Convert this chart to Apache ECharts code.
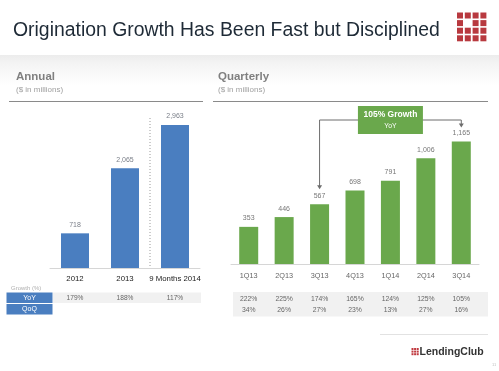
<!DOCTYPE html>
<html><head><meta charset="utf-8">
<script src="https://cdn.jsdelivr.net/npm/echarts@6/dist/echarts.min.js"></script>
<style>html,body{margin:0;padding:0;background:#fff}#c{width:499px;height:371px}</style>
</head><body><div id="c"></div>
<script>
const titleText = 'Origination Growth Has Been Fast but Disciplined';
const annualCats = ['2012', '2013', '9 Months 2014'];
const annualVals = [718, 2065, 2963];
const annualYoY = ['179%', '188%', '117%'];
const quarterCats = ['1Q13', '2Q13', '3Q13', '4Q13', '1Q14', '2Q14', '3Q14'];
const quarterVals = [353, 446, 567, 698, 791, 1006, 1165];
const quarterYoY = ['222%', '225%', '174%', '165%', '124%', '125%', '105%'];
const quarterQoQ = ['34%', '26%', '27%', '23%', '13%', '27%', '16%'];
const growthNote = ['105% Growth', 'YoY'];

const FONT = '"Liberation Sans", Arial, sans-serif';
const BLUE = '#4a7ec0';
const GREEN = '#6aa84c';
const fmt = v => Number(v).toLocaleString('en-US');

const chart = echarts.init(document.getElementById('c'), null, {renderer: 'canvas'});

const baseOption = {
  backgroundColor: '#ffffff',
  animation: false,
  textStyle: {fontFamily: FONT},
  grid: [
    {left: 50, width: 150, top: 99, bottom: 103},
    {left: 231, width: 248, top: 116.7, bottom: 107}
  ],
  xAxis: [
    {type: 'category', gridIndex: 0, data: annualCats,
     axisLine: {lineStyle: {color: '#d6d6d6'}}, axisTick: {show: false},
     axisLabel: {color: '#1a1a1a', fontSize: 7.8, margin: 7, interval: 0, fontFamily: FONT}},
    {type: 'category', gridIndex: 1, data: quarterCats,
     axisLine: {lineStyle: {color: '#d6d6d6'}}, axisTick: {show: false},
     axisLabel: {color: '#666', fontSize: 7.3, margin: 8, interval: 0, fontFamily: FONT}}
  ],
  yAxis: [
    {type: 'value', gridIndex: 0, min: 0, max: 3500, show: false},
    {type: 'value', gridIndex: 1, min: 0, max: 1400, show: false}
  ],
  series: [
    {type: 'bar', xAxisIndex: 0, yAxisIndex: 0, data: annualVals, barWidth: 28,
     itemStyle: {color: BLUE},
     label: {show: true, position: 'top', distance: 5, fontSize: 7, color: '#7a7f88',
             fontFamily: FONT, formatter: p => fmt(p.value)}},
    {type: 'bar', xAxisIndex: 1, yAxisIndex: 1, data: quarterVals, barWidth: 19,
     itemStyle: {color: GREEN},
     label: {show: true, position: 'top', distance: 5, fontSize: 7, color: '#777',
             fontFamily: FONT, formatter: p => fmt(p.value)}}
  ]
};
chart.setOption(baseOption);

const g = [];
function txt(text, x, y, size, color, opts) {
  opts = opts || {};
  g.push({type: 'text', silent: true, z: 10, style: {
    text: text, x: x, y: y, fontSize: size, fill: color, fontFamily: FONT,
    fontWeight: opts.weight || 'normal', align: opts.align || 'left', verticalAlign: 'middle'}});
}
function rect(x, y, w, h, fill, z) {
  g.push({type: 'rect', silent: true, z: z || 1, shape: {x: x, y: y, width: w, height: h}, style: {fill: fill}});
}
function line(x1, y1, x2, y2, color, w, dash) {
  g.push({type: 'line', silent: true, z: 5, shape: {x1: x1, y1: y1, x2: x2, y2: y2},
    style: {stroke: color, lineWidth: w || 1, lineDash: dash || null}});
}
function arrow(x, y, color) {
  g.push({type: 'polygon', silent: true, z: 6, shape: {points: [[x - 2.5, y - 4], [x + 2.5, y - 4], [x, y]]}, style: {fill: color}});
}

// top band
g.push({type: 'rect', silent: true, z: 0, shape: {x: 0, y: 55, width: 499, height: 30},
  style: {fill: new echarts.graphic.LinearGradient(0, 0, 0, 1, [
    {offset: 0, color: '#ececec'}, {offset: 0.25, color: '#f3f3f3'}, {offset: 1, color: '#ffffff'}])}});

// title
txt(titleText, 13, 31, 19.4, '#1e2a36');
// logo grid
for (let r = 0; r < 4; r++) for (let c = 0; c < 4; c++) {
  if (r === 1 && c === 1) continue;
  rect(457 + c * 7.8, 12.5 + r * 7.6, 6, 6, '#b8393f', 5);
}

// panel headers
txt('Annual', 16, 77, 11.5, '#808080', {weight: 'bold'});
txt('($ in millions)', 16, 90, 8, '#a0a0a0');
line(9, 101.5, 203, 101.5, '#8a8a8a', 1);
txt('Quarterly', 218, 77, 11.5, '#808080', {weight: 'bold'});
txt('($ in millions)', 218, 90, 8, '#a0a0a0');
line(213, 101.5, 488, 101.5, '#8a8a8a', 1);

// dotted separator between 2013 and 9 Months 2014
const p2013 = chart.convertToPixel({xAxisIndex: 0, yAxisIndex: 0}, [1, 0]);
const p2014 = chart.convertToPixel({xAxisIndex: 0, yAxisIndex: 0}, [2, 0]);
const sepX = (p2013[0] + p2014[0]) / 2;
line(sepX, 118, sepX, p2013[1], '#9a9a9a', 1, [1, 2]);

// annual growth table
txt('Growth (%)', 11, 288, 6, '#b0b0b0');
rect(6.5, 292.5, 46, 10.5, BLUE, 2);
rect(6.5, 304, 46, 10.5, BLUE, 2);
txt('YoY', 29.5, 298, 7, '#ffffff', {align: 'center'});
txt('QoQ', 29.5, 309.5, 7, '#ffffff', {align: 'center'});
rect(53, 292.5, 148, 10.5, '#f1f1f1', 1);
annualYoY.forEach((v, i) => {
  const p = chart.convertToPixel({xAxisIndex: 0, yAxisIndex: 0}, [i, 0]);
  txt(v, p[0], 298, 6.6, '#666', {align: 'center'});
});

// quarterly growth table
rect(233, 292, 255, 24.5, '#f1f1f1', 1);
quarterYoY.forEach((v, i) => {
  const p = chart.convertToPixel({xAxisIndex: 1, yAxisIndex: 1}, [i, 0]);
  txt(v, p[0], 299, 6.8, '#666', {align: 'center'});
  txt(quarterQoQ[i], p[0], 310, 6.8, '#666', {align: 'center'});
});

// growth annotation bracket from 3Q13 to 3Q14
const iA = 2, iB = quarterVals.length - 1;
const pA = chart.convertToPixel({xAxisIndex: 1, yAxisIndex: 1}, [iA, quarterVals[iA]]);
const pB = chart.convertToPixel({xAxisIndex: 1, yAxisIndex: 1}, [iB, quarterVals[iB]]);
const bracketY = 120;
const cx = (pA[0] + pB[0]) / 2;
g.push({type: 'polyline', silent: true, z: 5, shape: {points: [[pA[0], pA[1] - 17], [pA[0], bracketY], [pB[0], bracketY], [pB[0], pB[1] - 16]]},
  style: {stroke: '#6d6d6d', lineWidth: 1, fill: null}});
arrow(pA[0], pA[1] - 15, '#6d6d6d');
arrow(pB[0], pB[1] - 14, '#6d6d6d');
rect(cx - 32.5, 106, 65, 28, GREEN, 7);
txt(growthNote[0], cx, 115, 8.5, '#ffffff', {align: 'center', weight: 'bold'});
txt(growthNote[1], cx, 126.5, 6.8, '#ffffff', {align: 'center'});

// footer
line(380, 334.5, 488, 334.5, '#e2e2e2', 1);
for (let r = 0; r < 3; r++) for (let c = 0; c < 3; c++) {
  rect(411.5 + c * 2.6, 348 + r * 2.6, 2, 2, '#c0393f', 5);
}
txt('LendingClub', 419.5, 352.5, 10.5, '#333', {weight: 'bold'});
txt('11', 492, 365, 4, '#c0c0c0');

chart.setOption({graphic: {elements: g}});
</script>
</body></html>
